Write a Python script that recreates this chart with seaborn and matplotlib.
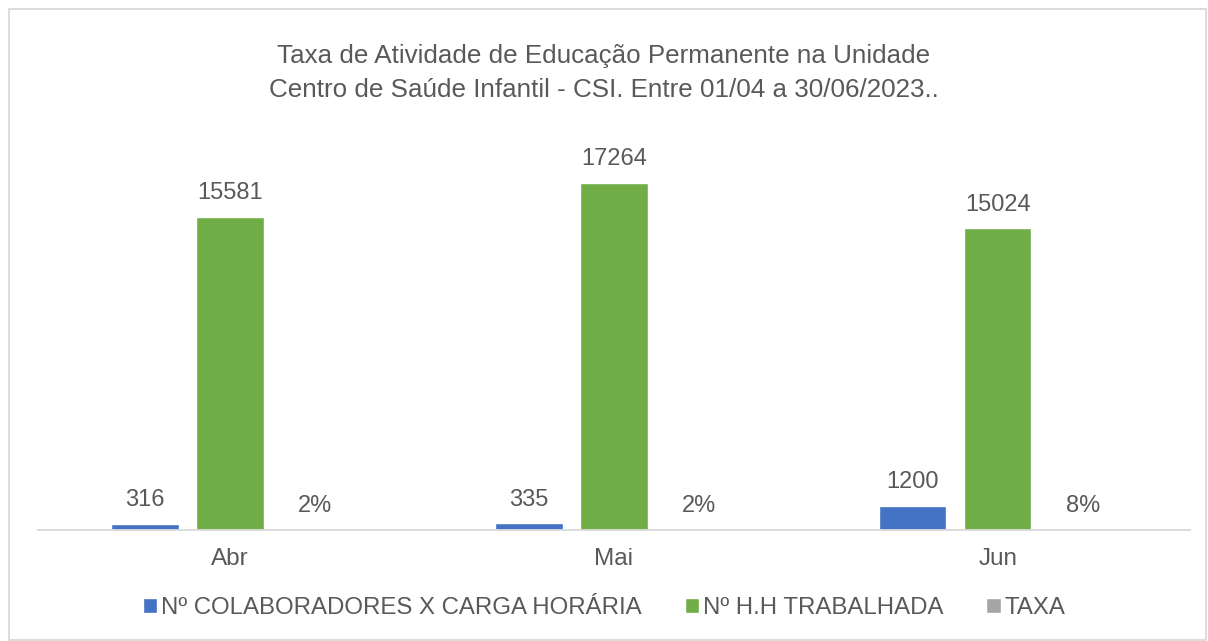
import pandas as pd
import matplotlib.pyplot as plt
import seaborn as sns
from matplotlib.patches import Rectangle

meses = ["Abr", "Mai", "Jun"]
series = ["Nº COLABORADORES X CARGA HORÁRIA", "Nº H.H TRABALHADA", "TAXA"]
colaboradores = [316, 335, 1200]
hh_trabalhada = [15581, 17264, 15024]
taxa = [0.02, 0.02, 0.08]
taxa_labels = ["2%", "2%", "8%"]
cores = ["#4472C4", "#70AD47", "#A5A5A5"]
titulo = ("Taxa de Atividade de Educação Permanente na Unidade\n"
          "Centro de Saúde Infantil - CSI. Entre 01/04 a 30/06/2023..")

# tabella in formato lungo per seaborn
df = pd.DataFrame({
    "mes": meses * 3,
    "serie": [series[0]] * 3 + [series[1]] * 3 + [series[2]] * 3,
    "valor": colaboradores + hh_trabalhada + taxa,
})

sns.set_style("white")
plt.rcParams["font.family"] = ["Liberation Sans", "DejaVu Sans"]
testo = "#595959"

fig = plt.figure(figsize=(12.08, 6.41), dpi=100)
ax = fig.add_axes([0.0315, 0.1732, 0.9535, 0.6271])

sns.barplot(
    data=df, x="mes", y="valor", hue="serie",
    palette=cores, width=0.664, gap=0.21, ax=ax,
    errorbar=None, saturation=1,
)

ax.set_xlim(-0.5, 2.5)
ax.set_ylim(0, 20000)
ax.set_xlabel("")
ax.set_ylabel("")
ax.set_yticks([])
for s in ["top", "right", "left"]:
    ax.spines[s].set_visible(False)
ax.spines["bottom"].set_color("#D9D9D9")
ax.spines["bottom"].set_linewidth(1.3)
ax.tick_params(axis="x", length=0, labelsize=17.5, colors=testo, pad=13)

# etichette dei valori
etichette = [[str(v) for v in colaboradores],
             [str(v) for v in hh_trabalhada],
             taxa_labels]
for cont, lab in zip(ax.containers, etichette):
    ax.bar_label(cont, labels=lab, padding=9, fontsize=17, color=testo)

fig.text(0.5, 0.886, titulo, ha="center", va="center", fontsize=18.7,
         color=testo, linespacing=1.5)

ax.legend(
    loc="center", bbox_to_anchor=(0.5, 0.051), bbox_transform=fig.transFigure,
    ncol=3, frameon=False, fontsize=17.3, handlelength=0.6, handleheight=0.6,
    handletextpad=0.15, columnspacing=1.8, labelcolor=testo,
)

fig.patches.append(Rectangle((0.0075, 0.002), 0.991, 0.984,
                             transform=fig.transFigure, fill=False,
                             edgecolor="#D9D9D9", linewidth=1.3))

fig.savefig("out.png", dpi=100, facecolor="white")
plt.close()
